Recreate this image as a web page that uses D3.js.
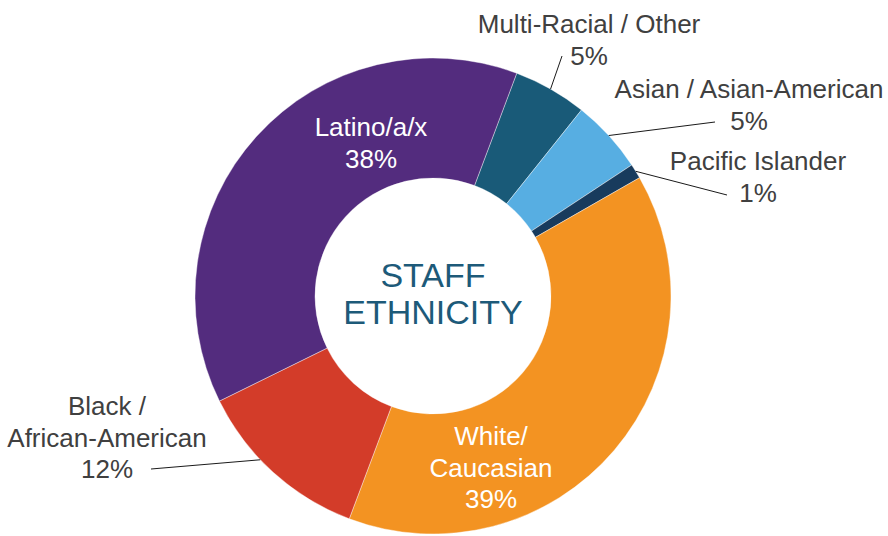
<!DOCTYPE html>
<html>
<head>
<meta charset="utf-8">
<script src="https://cdn.jsdelivr.net/npm/d3@7/dist/d3.min.js"></script>
<style>
  html, body { margin: 0; padding: 0; background: #fff; }
  svg { display: block; font-family: "Liberation Sans", Arial, sans-serif; }
  .lbl { font-size: 26px; fill: #404040; }
  .lbl-in { font-size: 26px; fill: #fff; }
  .leader { stroke: #1a1a1a; stroke-width: 1; fill: none; }
  .title { font-size: 34px; fill: #1d5a79; }
</style>
</head>
<body>
<svg id="chart" width="888" height="536"></svg>
<script>
// data
const categories = ['Multi-Racial / Other', 'Asian / Asian-American', 'Pacific Islander', 'White/ Caucasian', 'Black / African-American', 'Latino/a/x'];
const values = [5, 5, 1, 39, 12, 38];
const labelLines = [
    ['Multi-Racial / Other', '5%'],
    ['Asian / Asian-American', '5%'],
    ['Pacific Islander', '1%'],
    ['White/', 'Caucasian', '39%'],
    ['Black /', 'African-American', '12%'],
    ['Latino/a/x', '38%']
];
const colors = ['#195a78', '#57aee2', '#183b5d', '#f39322', '#d33c29', '#532c7e'];

// label placement (anchor = baseline of first line, centered), leader start if outside
// hook = where along the slice (0..1) the leader meets the outer edge
const labelLayout = [
    { x: 589, y: 33, inside: false, lead: [562, 56], hook: 0.5 },
    { x: 749, y: 98, inside: false, lead: [715, 122], hook: 0.5 },
    { x: 758, y: 170, inside: false, lead: [727, 195], hook: 0.5 },
    { x: 491, y: 445, inside: true },
    { x: 107, y: 415, inside: false, lead: [151, 469], hook: 0.6 },
    { x: 371, y: 136, inside: true }
];

function translate(x, y) {
    return `translate(${x}, ${y})`;
}

const cx = 433, cy = 296;
const outerR = 238, innerR = 118;
const lineH = 31.5;
const rad = deg => deg * Math.PI / 180;

const svg = d3.select('#chart');
const chart = svg.append('g').attr('transform', translate(cx, cy));

const pie = d3.pie()
    .sort(null)
    .value(d => d)
    .startAngle(rad(20.6))
    .endAngle(rad(380.6));
const arcs = pie(values);
const arc = d3.arc().innerRadius(innerR).outerRadius(outerR);

chart.selectAll('path.slice')
    .data(arcs)
    .enter()
    .append('path')
    .attr('class', 'slice')
    .attr('d', arc)
    .attr('fill', (d, i) => colors[i])
    .attr('stroke', '#fff')
    .attr('stroke-width', 0.4);

// leader lines to the outer edge of each slice
arcs.forEach((a, i) => {
    const lay = labelLayout[i];
    if (lay.inside) return;
    const ang = a.startAngle + (a.endAngle - a.startAngle) * lay.hook;
    svg.append('line')
        .attr('class', 'leader')
        .attr('x1', lay.lead[0]).attr('y1', lay.lead[1])
        .attr('x2', cx + outerR * Math.sin(ang))
        .attr('y2', cy - outerR * Math.cos(ang));
});

// labels
labelLines.forEach((lines, i) => {
    const lay = labelLayout[i];
    const t = svg.append('text')
        .attr('class', lay.inside ? 'lbl-in' : 'lbl')
        .attr('text-anchor', 'middle');
    lines.forEach((s, k) => {
        t.append('tspan')
            .attr('x', lay.x)
            .attr('y', lay.y + k * lineH)
            .text(s);
    });
});

// center title
['STAFF', 'ETHNICITY'].forEach((s, k) => {
    svg.append('text')
        .attr('class', 'title')
        .attr('text-anchor', 'middle')
        .attr('x', cx)
        .attr('y', 287 + k * 37)
        .text(s);
});
</script>
</body>
</html>
